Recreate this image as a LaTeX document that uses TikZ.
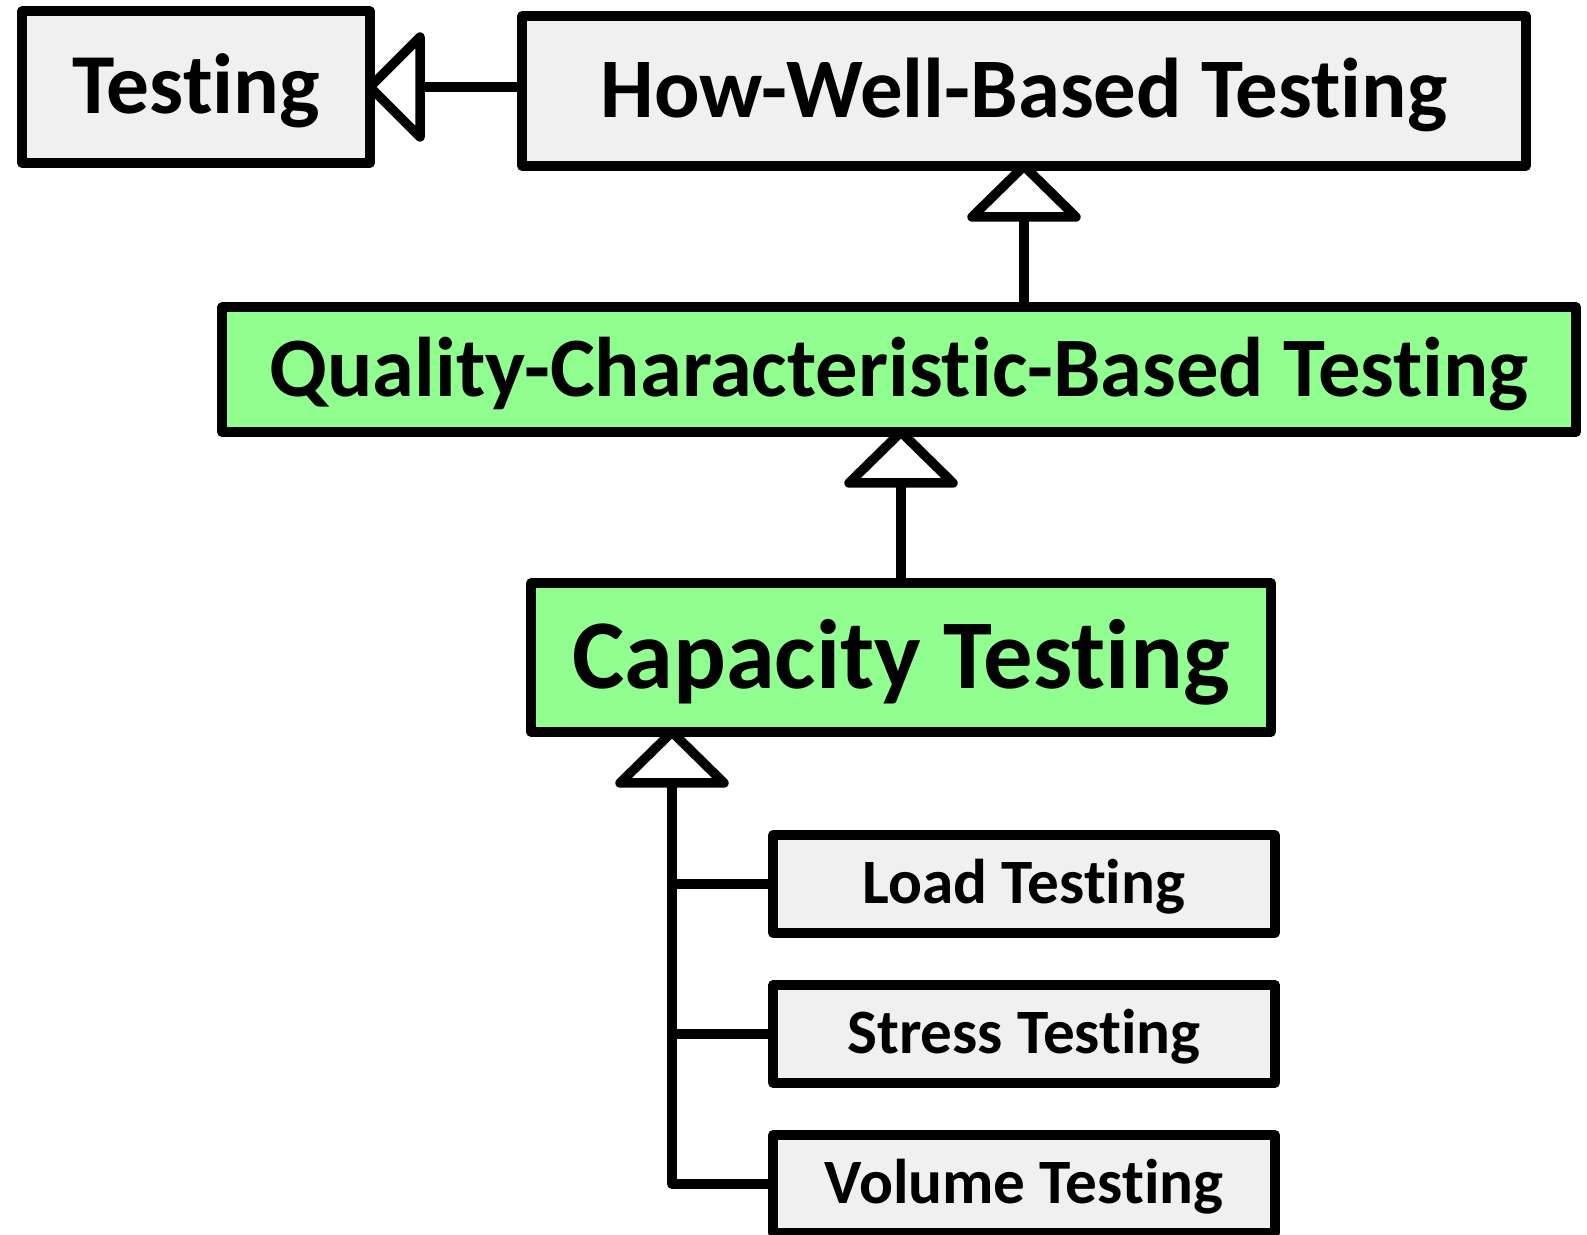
\documentclass[tikz,border=0pt]{standalone}
\usepackage{fontspec}
\setmainfont{Carlito}[RawFeature=-liga]
\usetikzlibrary{calc}
\definecolor{boxgrey}{RGB}{240,240,240}
\definecolor{boxgreen}{RGB}{144,255,144}
\tikzset{
  box/.style={draw=black, line width=4.75pt, line join=round, rectangle, inner sep=0pt, outer sep=0pt,
    text depth=0pt, align=center},
  greybox/.style={box, fill=boxgrey},
  greenbox/.style={box, fill=boxgreen},
  fs/.style={font=\bfseries\fontsize{#1 pt}{#1 pt}\selectfont, text height=0.632*#1 pt},
  conn/.style={draw=black, line width=4.75pt, line join=round, line cap=round},
  tri/.style={draw=black, fill=white, line width=4.75pt, line join=round},
}
\newcommand\uptri[1]{\path[tri] (#1) -- ++(-52,51) -- ++(104,0) -- cycle;}
\newcommand\lefttri[1]{\path[tri] (#1) -- ++(50,-50) -- ++(0,100) -- cycle;}
\begin{document}
\begin{tikzpicture}[x=0.5pt,y=-0.5pt]
\useasboundingbox (0,0) rectangle (1587,1235);
\node[greybox, minimum width=348*0.5pt, minimum height=152*0.5pt, fs=42.7] (test) at (196,87) {Testing};
\node[greybox, minimum width=1004*0.5pt, minimum height=150*0.5pt, fs=42.4] (hw) at (1024,91) {How-Well-Based Testing};
\node[greenbox, minimum width=1354*0.5pt, minimum height=125*0.5pt, fs=42.3] (qc) at (899,369.5) {Quality-Characteristic-Based Testing};
\node[greenbox, minimum width=740*0.5pt, minimum height=149*0.5pt, fs=49.3] (cap) at (901,657.5) {Capacity Testing};
\node[greybox, minimum width=502*0.5pt, minimum height=98*0.5pt, fs=31.6] (load) at (1024,884) {Load Testing};
\node[greybox, minimum width=502*0.5pt, minimum height=98*0.5pt, fs=31.6] (stress) at (1024,1034) {Stress Testing};
\node[greybox, minimum width=502*0.5pt, minimum height=98*0.5pt, fs=31.6] (vol) at (1024,1184) {Volume Testing};
% connectors
\draw[conn] (test.east -| hw.west) -- (test.east);
\lefttri{test.east}
\draw[conn] (qc.north -| hw.south) -- (hw.south);
\uptri{hw.south}
\draw[conn] (cap.north) -- (cap.north |- qc.south);
\uptri{cap.north |- qc.south}
\coordinate (hub) at ($(cap.south west)+(141,0)$);
\draw[conn] (vol.west) -| (hub);
\draw[conn] (stress.west) -- (stress.west -| hub);
\draw[conn] (load.west) -- (load.west -| hub);
\uptri{hub}
\end{tikzpicture}
\end{document}
